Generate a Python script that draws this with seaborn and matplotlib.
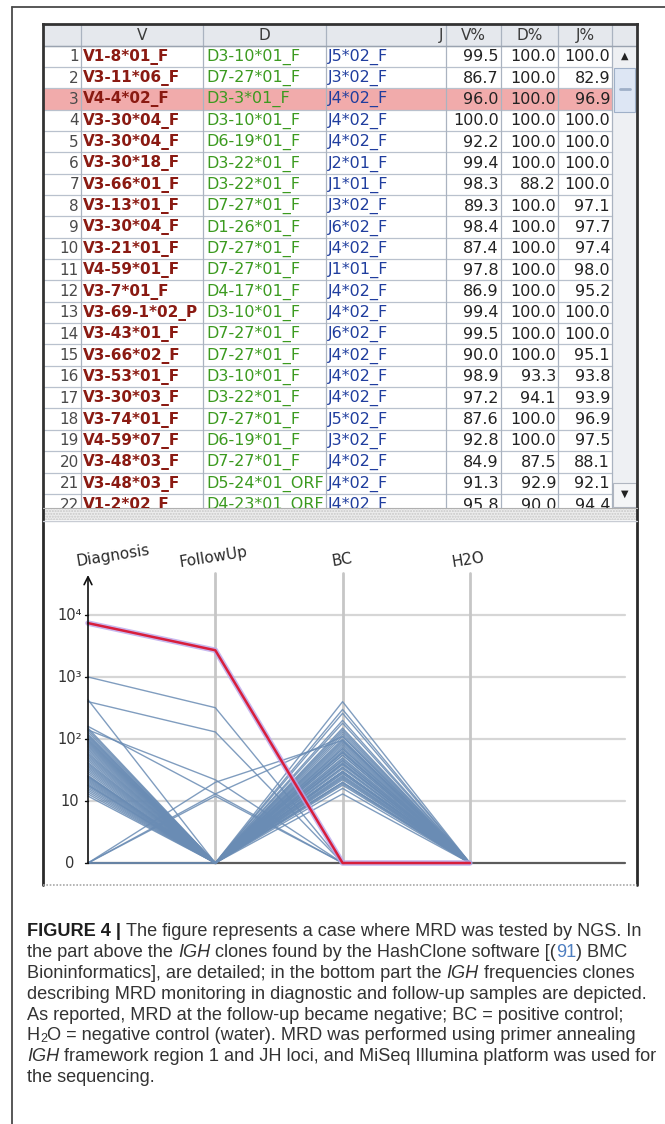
import numpy as np
import pandas as pd
import matplotlib
matplotlib.use("Agg")
import matplotlib.pyplot as plt
import seaborn as sns
from matplotlib.patches import Rectangle
from matplotlib.transforms import Bbox, TransformedBbox

sns.set_style("white")
plt.rcParams['font.family'] = ['DejaVu Sans']

# ---------------- table data ----------------
row_ids = list(range(1, 23))
v_genes = ["V1-8*01_F", "V3-11*06_F", "V4-4*02_F", "V3-30*04_F", "V3-30*04_F", "V3-30*18_F",
           "V3-66*01_F", "V3-13*01_F", "V3-30*04_F", "V3-21*01_F", "V4-59*01_F", "V3-7*01_F",
           "V3-69-1*02_P", "V3-43*01_F", "V3-66*02_F", "V3-53*01_F", "V3-30*03_F", "V3-74*01_F",
           "V4-59*07_F", "V3-48*03_F", "V3-48*03_F", "V1-2*02_F"]
d_genes = ["D3-10*01_F", "D7-27*01_F", "D3-3*01_F", "D3-10*01_F", "D6-19*01_F", "D3-22*01_F",
           "D3-22*01_F", "D7-27*01_F", "D1-26*01_F", "D7-27*01_F", "D7-27*01_F", "D4-17*01_F",
           "D3-10*01_F", "D7-27*01_F", "D7-27*01_F", "D3-10*01_F", "D3-22*01_F", "D7-27*01_F",
           "D6-19*01_F", "D7-27*01_F", "D5-24*01_ORF", "D4-23*01_ORF"]
j_genes = ["J5*02_F", "J3*02_F", "J4*02_F", "J4*02_F", "J4*02_F", "J2*01_F", "J1*01_F",
           "J3*02_F", "J6*02_F", "J4*02_F", "J1*01_F", "J4*02_F", "J4*02_F", "J6*02_F",
           "J4*02_F", "J4*02_F", "J4*02_F", "J5*02_F", "J3*02_F", "J4*02_F", "J4*02_F", "J4*02_F"]
v_pct = [99.5, 86.7, 96.0, 100.0, 92.2, 99.4, 98.3, 89.3, 98.4, 87.4, 97.8, 86.9, 99.4, 99.5,
         90.0, 98.9, 97.2, 87.6, 92.8, 84.9, 91.3, 95.8]
d_pct = [100.0, 100.0, 100.0, 100.0, 100.0, 100.0, 88.2, 100.0, 100.0, 100.0, 100.0, 100.0,
         100.0, 100.0, 100.0, 93.3, 94.1, 100.0, 100.0, 87.5, 92.9, 90.0]
j_pct = [100.0, 82.9, 96.9, 100.0, 100.0, 100.0, 100.0, 97.1, 97.7, 97.4, 98.0, 95.2, 100.0,
         100.0, 95.1, 93.8, 93.9, 96.9, 97.5, 88.1, 92.1, 94.4]
header_labels = ["V", "D", "J", "V%", "D%", "J%"]
highlight_row = 3

# ---------------- plot data (read counts) ----------------
samples = ["Diagnosis", "FollowUp", "BC", "H2O"]
tick_labels = ["0", "10", "10\u00b2", "10\u00b3", "10\u2074"]
red_clone = [7400, 2700, 0, 0]
special_diag = [1000, 400, 430, 160, 140, 0, 0, 0, 0, 0]
special_fu = [320, 130, 0, 13, 22, 13, 20, 12, 0, 0]
special_bc = [0, 0, 40, 0, 0, 110, 95, 0, 70, 30]
special_h2o = [0, 0, 0, 0, 0, 0, 0, 0, 0, 0]
main_diag = [150, 140, 130, 120, 115, 110, 105, 100, 96, 92, 88, 84, 80, 76, 72, 68, 64, 60,
             57, 54, 51, 48, 45, 42, 40, 38, 36, 34, 32, 30, 28, 26, 25, 24, 23, 22, 21, 20,
             19, 18, 17, 16, 15, 14, 13, 12, 25, 18]
main_bc = [60, 400, 35, 260, 90, 30, 180, 45, 120, 25, 75, 150, 20, 55, 200, 40, 28, 95, 65,
           18, 110, 50, 33, 85, 22, 140, 60, 38, 24, 70, 45, 16, 100, 30, 55, 20, 80, 42, 26,
           35, 62, 19, 48, 28, 23, 13, 300, 130]


def to_axis(v):
    return np.log10(v) if v > 0 else 0.0


rows = []
cid = 0
for d, f, b, h in zip(special_diag + main_diag,
                      special_fu + [0] * len(main_diag),
                      special_bc + main_bc,
                      special_h2o + [0] * len(main_diag)):
    for i, v in enumerate([d, f, b, h]):
        rows.append({"clone": cid, "pos": i, "y": to_axis(v)})
    cid += 1
blue_df = pd.DataFrame(rows)
red_df = pd.DataFrame({"clone": 0, "pos": range(4), "y": [to_axis(v) for v in red_clone]})

# ---------------- figure ----------------
W, H = 665, 1124
fig = plt.figure(figsize=(W / 100, H / 100), dpi=100)
fig.patch.set_facecolor("white")


def frect(x0, y0, x1, y1):
    return [x0 / W, 1 - y1 / H, (x1 - x0) / W, (y1 - y0) / H]


ax_bg = fig.add_axes([0, 0, 1, 1])
ax_bg.set_xlim(0, W)
ax_bg.set_ylim(H, 0)
ax_bg.axis("off")

# outer frame (left + top)
ax_bg.plot([12, 12], [7, H], color="#4a4a4a", lw=1.3)
ax_bg.plot([12, W], [7, 7], color="#4a4a4a", lw=1.3)

TB = 508  # table bottom
# splitter band
ax_bg.add_patch(Rectangle((43, TB), 594, 12, facecolor="#ededed", edgecolor="#c8c8c8",
                          hatch="......", lw=0.6))
# plot panel
ax_bg.add_patch(Rectangle((43, 520), 594, 365, facecolor="white", edgecolor="none"))
ax_bg.plot([43, 43], [TB, 885], color="#2a2a2a", lw=2.0)
ax_bg.plot([637, 637], [TB, 885], color="#2a2a2a", lw=2.0)
ax_bg.plot([43, 637], [885, 885], color="#a8a8a8", lw=1.2, ls=(0, (1, 1)))
ax_bg.plot([43, 637], [520.5, 520.5], color="#c8ccd4", lw=1.0)

# axis titles
for name, (px, py) in zip(samples, [(113, 556), (213, 557), (342, 560), (468, 560)]):
    ax_bg.text(px, py, name, rotation=9, ha="center", va="center", fontsize=11,
               color="#2a2a2a")

# ---------------- table ----------------
c = [43, 81, 203, 326, 446, 501, 558, 612, 637]
top, hdr_b, rh = 24, 45.5, 21.35
ax_t = fig.add_axes(frect(43, top, 637, TB))
ax_t.set_xlim(43, 637)
ax_t.set_ylim(TB, top)
ax_t.set_xticks([])
ax_t.set_yticks([])
for s in ["left", "top", "right"]:
    ax_t.spines[s].set_color("#333333")
    ax_t.spines[s].set_linewidth(2.0)
ax_t.spines["bottom"].set_color("#b0b0b0")
ax_t.spines["bottom"].set_linewidth(0.8)

ax_t.add_patch(Rectangle((43, top), 594, hdr_b - top, facecolor="#e5e8ed", edgecolor="none"))
ax_t.add_patch(Rectangle((c[7], hdr_b), c[8] - c[7], TB - hdr_b, facecolor="#eef0f3",
                         edgecolor="none"))
hl_top = hdr_b + (highlight_row - 1) * rh
ax_t.add_patch(Rectangle((43, hl_top), c[7] - 43, rh, facecolor="#f1abab", edgecolor="none"))

for k in range(len(row_ids) + 1):
    yy = hdr_b + k * rh
    ax_t.plot([43, c[7]], [yy, yy], color="#b9c1cd", lw=0.9)
for xx in c[1:8]:
    ax_t.plot([xx, xx], [top, TB], color="#aab3c0", lw=0.9)
ax_t.plot([43, 637], [hdr_b, hdr_b], color="#9aa3b0", lw=1.0)

hdr_pos = [((c[1] + c[2]) / 2, "center"), ((c[2] + c[3]) / 2, "center"), (c[4] - 3, "right"),
           ((c[4] + c[5]) / 2, "center"), ((c[5] + c[6]) / 2, "center"),
           ((c[6] + c[7]) / 2, "center")]
for lab, (hx, ha) in zip(header_labels, hdr_pos):
    ax_t.text(hx, (top + hdr_b) / 2 + 0.5, lab, ha=ha, va="center", fontsize=11,
              color="#3a3a3a")


def cell_text(x, y, s, x0, x1, **kw):
    t = ax_t.text(x, y, s, va="center", clip_on=True, **kw)
    t.set_clip_box(TransformedBbox(Bbox([[x0, top], [x1, TB]]), ax_t.transData))
    return t


for i, rid in enumerate(row_ids):
    yc = hdr_b + (i + 0.5) * rh + 0.5
    cell_text(c[1] - 2, yc, str(rid), c[0], c[1], ha="right", fontsize=11, color="#4a4a4a")
    cell_text(c[1] + 2, yc, v_genes[i], c[1], c[2], ha="left", fontsize=11,
              color="#8a1a12", fontweight="bold")
    cell_text(c[2] + 3, yc, d_genes[i], c[2], c[3], ha="left", fontsize=11.5, color="#3b9a1f")
    cell_text(c[3] + 2, yc, j_genes[i], c[3], c[4], ha="left", fontsize=11.5, color="#1f3d9e")
    cell_text(c[5] - 2, yc, f"{v_pct[i]:.1f}", c[4], c[5], ha="right", fontsize=11.5,
              color="#222222")
    cell_text(c[6] - 2, yc, f"{d_pct[i]:.1f}", c[5], c[6], ha="right", fontsize=11.5,
              color="#222222")
    cell_text(c[7] - 2, yc, f"{j_pct[i]:.1f}", c[6], c[7], ha="right", fontsize=11.5,
              color="#222222")

# scrollbar
sx = (c[7] + c[8]) / 2
ax_t.text(sx, hdr_b + 0.5 * rh, "\u25b2", ha="center", va="center", fontsize=7, color="#222")
ax_t.add_patch(Rectangle((c[7] + 2, 68), c[8] - c[7] - 4, 44, facecolor="#dde6f4",
                         edgecolor="#9fb0c8", lw=0.8))
ax_t.plot([sx - 5, sx + 5], [89, 89], color="#9fb0c8", lw=2)
ax_t.add_patch(Rectangle((c[7] + 1, 483), c[8] - c[7] - 2, 24, facecolor="#f4f5f7",
                         edgecolor="#b0b6c0", lw=0.8))
ax_t.text(sx, 494, "\u25bc", ha="center", va="center", fontsize=7, color="#222")

# ---------------- parallel coordinate plot ----------------
X0, DX = 88.0, 127.3
Y0, DY = 863.0, 62.0
ax_p = fig.add_axes(frect(50, 566, 632, 884))
ax_p.set_xlim((50 - X0) / DX, (632 - X0) / DX)
ax_p.set_ylim((Y0 - 884) / DY, (Y0 - 566) / DY)
ax_p.axis("off")
ax_p.patch.set_alpha(0)

x_end = (625 - X0) / DX
y_top = (Y0 - 573) / DY
for k in range(1, 5):
    ax_p.plot([0, x_end], [k, k], color="#d6d6d6", lw=1.6, zorder=0)
for i in range(1, 4):
    ax_p.plot([i, i], [0, y_top], color="#c6c6c6", lw=2.0, zorder=0)
ax_p.plot([0, x_end], [0, 0], color="#5c5c5c", lw=1.6, zorder=1)

sns.lineplot(data=blue_df, x="pos", y="y", units="clone", estimator=None, sort=False,
             color="#6a8cb4", lw=1.0, alpha=0.85, ax=ax_p, legend=False, zorder=2)
sns.lineplot(data=red_df, x="pos", y="y", units="clone", estimator=None, sort=False,
             color="#b9a6ea", lw=4.0, alpha=0.8, ax=ax_p, legend=False, zorder=3)
sns.lineplot(data=red_df, x="pos", y="y", units="clone", estimator=None, sort=False,
             color="#d81e3c", lw=1.8, ax=ax_p, legend=False, zorder=4)

ax_p.annotate("", xy=(0, (Y0 - 575) / DY), xytext=(0, 0),
              arrowprops=dict(arrowstyle="->", color="#111111", lw=1.2, mutation_scale=14,
                              shrinkA=0, shrinkB=0), zorder=5)
for k, lab in enumerate(tick_labels):
    ax_p.plot([-0.025, 0], [k, k], color="#111111", lw=1.0, zorder=5)
    ax_p.text((70 - X0) / DX, k, lab, ha="center", va="center", fontsize=10.5,
              color="#333333")
ax_p.set_xlabel("")
ax_p.set_ylabel("")

# ---------------- caption ----------------
cap_font = "Liberation Sans"
renderer = fig.canvas.get_renderer()


def seg_width(s, **kw):
    t = ax_bg.text(0, 0, s, **kw)
    w = t.get_window_extent(renderer).width
    t.remove()
    return w


base = dict(fontfamily=cap_font, color="#333333")
cap_lines = [
    [("FIGURE 4 |", "b"), (" The figure represents a case where MRD was tested by NGS. In", "r")],
    [("the part above the ", "r"), ("IGH", "i"),
     (" clones found by the HashClone software [(", "r"), ("91", "link"), (") BMC", "r")],
    [("Bioninformatics], are detailed; in the bottom part the ", "r"), ("IGH", "i"),
     (" frequencies clones", "r")],
    [("describing MRD monitoring in diagnostic and follow-up samples are depicted.", "r")],
    [("As reported, MRD at the follow-up became negative; BC = positive control;", "r")],
    [("H", "r"), ("2", "sub"), ("O = negative control (water). MRD was performed using primer annealing", "r")],
    [("IGH", "i"), (" framework region 1 and JH loci, and MiSeq Illumina platform was used for", "r")],
    [("the sequencing.", "r")],
]

ref_w = seg_width(cap_lines[3][0][0], fontsize=10, **base)
fs = 10 * 624 / ref_w


def style_kw(st):
    kw = dict(base)
    kw["fontsize"] = fs
    if st == "b":
        kw["fontweight"] = "bold"
        kw["color"] = "#1e1e1e"
    elif st == "i":
        kw["fontstyle"] = "italic"
    elif st == "link":
        kw["color"] = "#4f7fc0"
    elif st == "sub":
        kw["fontsize"] = fs * 0.7
    return kw


cap_x0, cap_y0, cap_dy = 27, 930, 20.8
for li, segs in enumerate(cap_lines):
    x = cap_x0
    y = cap_y0 + li * cap_dy
    for s, st in segs:
        kw = style_kw(st)
        sp = seg_width("a a", **kw) - seg_width("aa", **kw)
        nl = len(s) - len(s.lstrip(" "))
        nt = len(s) - len(s.rstrip(" "))
        core = s.strip(" ")
        x += nl * sp
        yy = y + (4 if st == "sub" else 0)
        ax_bg.text(x, yy, core, ha="left", va="center_baseline", **kw)
        x += seg_width(core, **kw) + nt * sp

fig.savefig("out.png", dpi=100, facecolor="white")
